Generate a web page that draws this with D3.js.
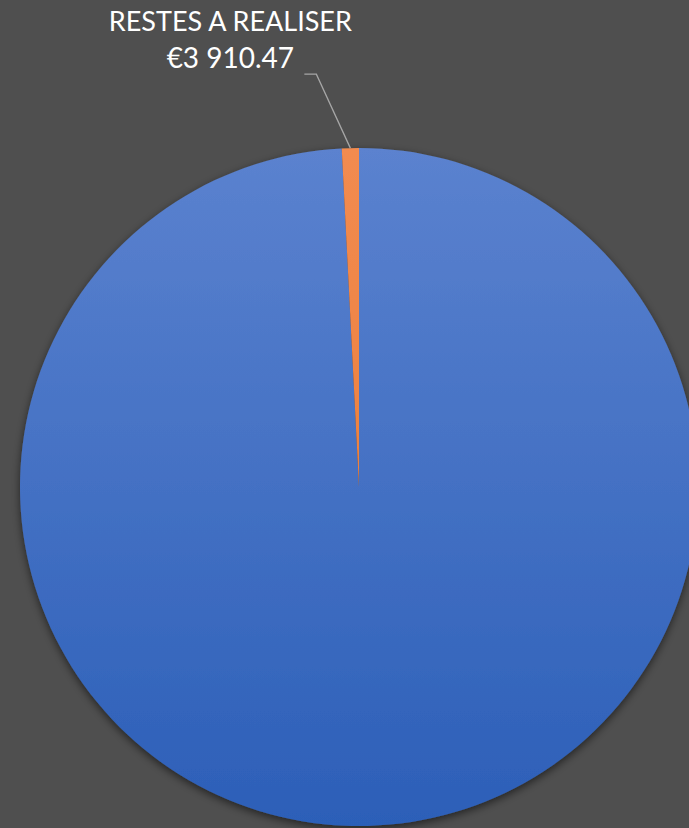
<!DOCTYPE html>
<html>
<head>
<meta charset="utf-8">
<script src="https://cdn.jsdelivr.net/npm/d3@7"></script>
<style>
  html, body { margin: 0; padding: 0; background: #4f4f4f; overflow: hidden; }
  svg { display: block; }
</style>
</head>
<body>
<div id="chart"></div>
<script>
// data
const categories = ["REALISE", "RESTES A REALISER"];
const values = [478000, 3910.47];
const labelShown = [false, true];

const width = 689;
const height = 828;
const cx = 359;
const cy = 487;
const radius = 339;

const svg = d3.select("#chart").append("svg")
  .attr("width", width)
  .attr("height", height);

svg.append("rect").attr("width", width).attr("height", height).attr("fill", "#4f4f4f");

const defs = svg.append("defs");
// gradients are in the coordinates of the translated pie group
const gradBlue = defs.append("linearGradient")
  .attr("id", "gBlue").attr("gradientUnits", "userSpaceOnUse")
  .attr("x1", 0).attr("y1", -radius).attr("x2", 0).attr("y2", radius);
gradBlue.append("stop").attr("offset", "0%").attr("stop-color", "#5b82cf");
gradBlue.append("stop").attr("offset", "100%").attr("stop-color", "#2c5fb8");

const gradOrange = defs.append("linearGradient")
  .attr("id", "gOrange").attr("gradientUnits", "userSpaceOnUse")
  .attr("x1", 0).attr("y1", -radius).attr("x2", 0).attr("y2", radius);
gradOrange.append("stop").attr("offset", "0%").attr("stop-color", "#f28b50");
gradOrange.append("stop").attr("offset", "100%").attr("stop-color", "#e8772f");

const shadow = defs.append("filter").attr("id", "shadow")
  .attr("x", "-10%").attr("y", "-10%").attr("width", "120%").attr("height", "120%");
shadow.append("feDropShadow")
  .attr("dx", 0).attr("dy", 3).attr("stdDeviation", 4)
  .attr("flood-color", "#000").attr("flood-opacity", 0.55);

const color = d3.scaleOrdinal().domain(categories).range(["url(#gBlue)", "url(#gOrange)"]);

const pie = d3.pie().sort(null).value(d => d.value)
  .startAngle(-2 * Math.PI).endAngle(0);
const arcs = pie(categories.map((c, i) => ({ name: c, value: values[i], show: labelShown[i] })));

const arc = d3.arc().innerRadius(0).outerRadius(radius);

const g = svg.append("g").attr("transform", `translate(${cx},${cy})`);

g.append("g").attr("filter", "url(#shadow)")
  .selectAll("path")
  .data(arcs)
  .enter().append("path")
  .attr("d", arc)
  .attr("fill", d => color(d.data.name));

// data label with leader line
const fmt = v => "€" + d3.format(",.2f")(v).replace(/,/g, " ");

arcs.filter(d => d.data.show).forEach(d => {
  const mid = (d.startAngle + d.endAngle) / 2;
  const p0 = [radius * Math.sin(mid), -radius * Math.cos(mid)];
  const elbow = [p0[0] - 34, p0[1] - 74];
  const end = [elbow[0] - 12, elbow[1]];
  g.append("polyline")
    .attr("points", [p0, elbow, end].map(p => p.join(",")).join(" "))
    .attr("fill", "none")
    .attr("stroke", "#a6a6a6")
    .attr("stroke-width", 1.3);

  const lx = end[0] - 74;
  const txt = g.append("text")
    .attr("text-anchor", "middle")
    .attr("fill", "#ffffff")
    .attr("font-family", "Lato, 'Open Sans', sans-serif")
    .attr("font-size", 27);
  txt.append("tspan").attr("x", lx).attr("y", elbow[1] - 43).text(d.data.name);
  txt.append("tspan").attr("x", lx).attr("y", elbow[1] - 6).attr("font-size", 28).text(fmt(d.data.value));
});
</script>
</body>
</html>
